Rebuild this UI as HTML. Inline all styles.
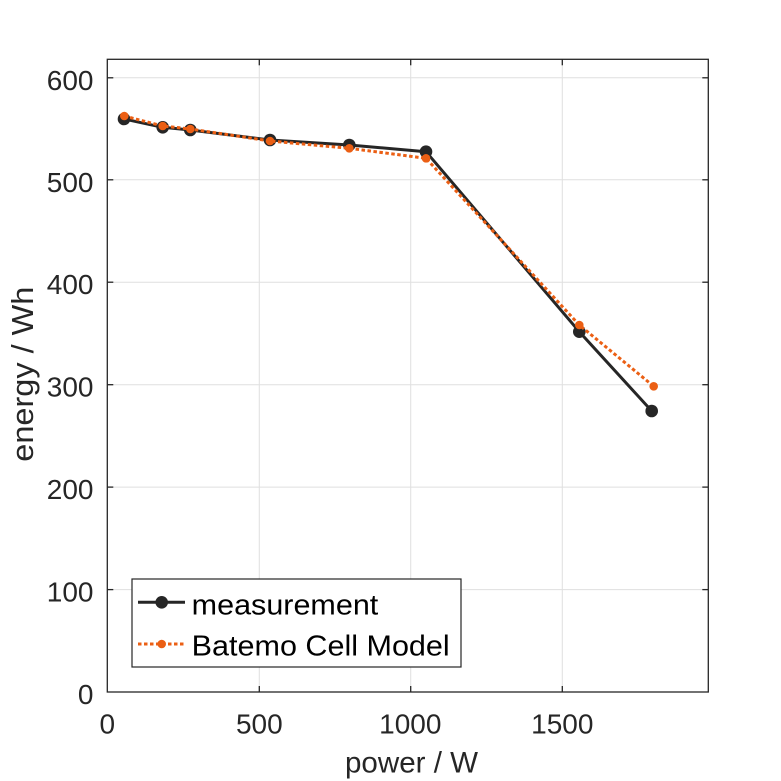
<!DOCTYPE html>
<html>
<head>
<meta charset="utf-8">
<style>
  html,body{margin:0;padding:0;background:#fff;}
  svg{display:block;}
  text{font-family:"Liberation Sans", Arial, sans-serif; fill:#262626;}
</style>
</head>
<body>
<svg width="781" height="781" viewBox="0 0 781 781" xmlns="http://www.w3.org/2000/svg">
  <rect x="0" y="0" width="781" height="781" fill="#fff"/>
  <!-- axes background -->
  <rect x="107.3" y="59.3" width="601" height="632.7" fill="#fff"/>
  <!-- grid -->
  <g stroke="#dfdfdf" stroke-width="1">
    <line x1="259.3" y1="59.3" x2="259.3" y2="692"/>
    <line x1="410.7" y1="59.3" x2="410.7" y2="692"/>
    <line x1="562.3" y1="59.3" x2="562.3" y2="692"/>
    <line x1="107.3" y1="589.6" x2="708.3" y2="589.6"/>
    <line x1="107.3" y1="487.1" x2="708.3" y2="487.1"/>
    <line x1="107.3" y1="384.7" x2="708.3" y2="384.7"/>
    <line x1="107.3" y1="282.2" x2="708.3" y2="282.2"/>
    <line x1="107.3" y1="179.8" x2="708.3" y2="179.8"/>
    <line x1="107.3" y1="77.8" x2="708.3" y2="77.8"/>
  </g>
  <!-- measurement series -->
  <polyline fill="none" stroke="#262626" stroke-width="3" stroke-linejoin="round"
    points="124,119 162.7,127.3 190.3,130 270,140 349.3,145 426,151.7 579.3,331.7 651.7,411"/>
  <g fill="#262626">
    <circle cx="124" cy="119" r="6.3"/>
    <circle cx="162.7" cy="127.3" r="6.3"/>
    <circle cx="190.3" cy="130" r="6.3"/>
    <circle cx="270" cy="140" r="6.3"/>
    <circle cx="349.3" cy="145" r="6.3"/>
    <circle cx="426" cy="151.7" r="6.3"/>
    <circle cx="579.3" cy="331.7" r="6.3"/>
    <circle cx="651.7" cy="411" r="6.3"/>
  </g>
  <!-- model series -->
  <polyline fill="none" stroke="#EB5F14" stroke-width="3" stroke-dasharray="3.5 2.5"
    points="124.3,116 162.7,126 190.3,129 270,141 349.3,148.3 426,158.3 579.3,325 653.7,386.3"/>
  <g fill="#EB5F14">
    <circle cx="124.3" cy="116" r="4.3"/>
    <circle cx="162.7" cy="126" r="4.3"/>
    <circle cx="190.3" cy="129" r="4.3"/>
    <circle cx="270" cy="141" r="4.3"/>
    <circle cx="349.3" cy="148.3" r="4.3"/>
    <circle cx="426" cy="158.3" r="4.3"/>
    <circle cx="579.3" cy="325" r="4.3"/>
    <circle cx="653.7" cy="386.3" r="4.3"/>
  </g>
  <!-- box -->
  <rect x="107.3" y="59.3" width="601" height="632.7" fill="none" stroke="#262626" stroke-width="1.3"/>
  <!-- ticks -->
  <g stroke="#262626" stroke-width="1.3">
    <line x1="259.3" y1="692" x2="259.3" y2="686"/>
    <line x1="410.7" y1="692" x2="410.7" y2="686"/>
    <line x1="562.3" y1="692" x2="562.3" y2="686"/>
    <line x1="259.3" y1="59.3" x2="259.3" y2="65.3"/>
    <line x1="410.7" y1="59.3" x2="410.7" y2="65.3"/>
    <line x1="562.3" y1="59.3" x2="562.3" y2="65.3"/>
    <line x1="107.3" y1="589.6" x2="113.3" y2="589.6"/>
    <line x1="107.3" y1="487.1" x2="113.3" y2="487.1"/>
    <line x1="107.3" y1="384.7" x2="113.3" y2="384.7"/>
    <line x1="107.3" y1="282.2" x2="113.3" y2="282.2"/>
    <line x1="107.3" y1="179.8" x2="113.3" y2="179.8"/>
    <line x1="107.3" y1="77.8" x2="113.3" y2="77.8"/>
    <line x1="708.3" y1="589.6" x2="702.3" y2="589.6"/>
    <line x1="708.3" y1="487.1" x2="702.3" y2="487.1"/>
    <line x1="708.3" y1="384.7" x2="702.3" y2="384.7"/>
    <line x1="708.3" y1="282.2" x2="702.3" y2="282.2"/>
    <line x1="708.3" y1="179.8" x2="702.3" y2="179.8"/>
    <line x1="708.3" y1="77.8" x2="702.3" y2="77.8"/>
  </g>
  <!-- y tick labels -->
  <g font-size="28" text-anchor="end">
    <text x="93.5" y="704">0</text>
    <text x="93.5" y="601.6">100</text>
    <text x="93.5" y="499.1">200</text>
    <text x="93.5" y="396.7">300</text>
    <text x="93.5" y="294.2">400</text>
    <text x="93.5" y="191.8">500</text>
    <text x="93.5" y="90">600</text>
  </g>
  <!-- x tick labels -->
  <g font-size="28" text-anchor="middle">
    <text x="107.3" y="733.3">0</text>
    <text x="259.3" y="733.3">500</text>
    <text x="410.3" y="733.3">1000</text>
    <text x="562.3" y="733.3">1500</text>
  </g>
  <!-- axis labels -->
  <text x="345" y="772.5" font-size="30" textLength="133" lengthAdjust="spacingAndGlyphs">power / W</text>
  <text transform="translate(33,461.7) rotate(-90)" x="0" y="0" font-size="31" textLength="175" lengthAdjust="spacingAndGlyphs">energy / Wh</text>
  <!-- legend -->
  <rect x="132" y="579" width="329" height="88" fill="#fff" stroke="#262626" stroke-width="1.2"/>
  <line x1="138" y1="602.3" x2="185" y2="602.3" stroke="#262626" stroke-width="3"/>
  <circle cx="161.7" cy="602.3" r="6.3" fill="#262626"/>
  <line x1="138" y1="644" x2="185" y2="644" stroke="#EB5F14" stroke-width="3" stroke-dasharray="3.5 2.5"/>
  <circle cx="161.7" cy="644" r="4.3" fill="#EB5F14"/>
  <text x="191.7" y="614.5" font-size="29" textLength="186.6" lengthAdjust="spacingAndGlyphs" style="fill:#000">measurement</text>
  <text x="191.7" y="655.7" font-size="29" textLength="258" lengthAdjust="spacingAndGlyphs" style="fill:#000">Batemo Cell Model</text>
</svg>
</body>
</html>
